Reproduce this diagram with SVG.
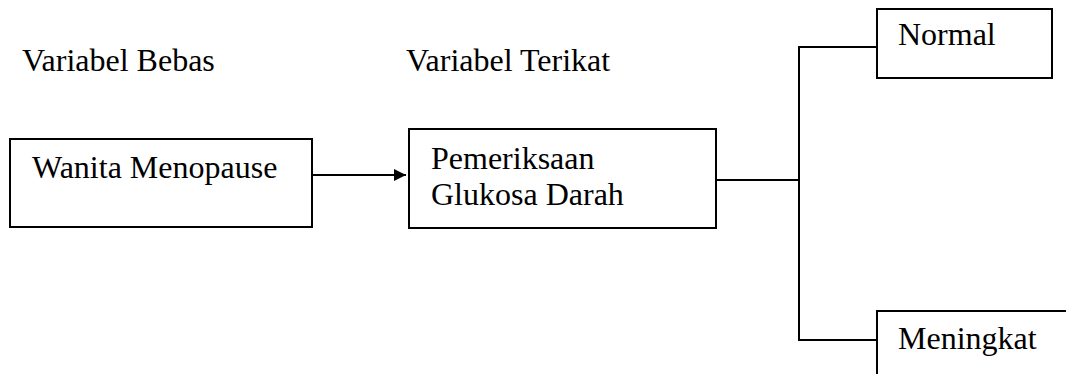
<svg xmlns="http://www.w3.org/2000/svg" width="1066" height="374" viewBox="0 0 1066 374">
<defs>
<style>
text{font-family:"Liberation Serif","Times New Roman",serif;font-size:32px;fill:#000}
.box{fill:#fff;stroke:#000;stroke-width:2}
.ln{fill:none;stroke:#000;stroke-width:2}
</style>
<marker id="ah" markerWidth="12" markerHeight="12" refX="12" refY="6" orient="auto" markerUnits="userSpaceOnUse">
<path d="M0,0 L12,6 L0,12 Z" fill="#000"/>
</marker>
</defs>
<rect width="1066" height="374" fill="#fff"/>
<text x="22" y="71">Variabel Bebas</text>
<text x="406" y="71">Variabel Terikat</text>
<g id="connectors">
<line class="ln" x1="312" y1="175" x2="406" y2="175" marker-end="url(#ah)"/>
<line class="ln" x1="716" y1="180" x2="799" y2="180"/>
<polyline class="ln" points="877,47 799,47 799,340 877,340"/>
</g>
<g id="wanita">
<rect class="box" x="10" y="139" width="302" height="88"/>
<text x="32" y="178">Wanita Menopause</text>
</g>
<g id="pemeriksaan">
<rect class="box" x="409" y="129" width="307" height="99"/>
<text x="431" y="169">Pemeriksaan</text>
<text x="431" y="205">Glukosa Darah</text>
</g>
<g id="normal">
<rect class="box" x="877" y="9" width="175" height="69"/>
<text x="898" y="45">Normal</text>
</g>
<g id="meningkat">
<rect class="box" x="877" y="311" width="200" height="80"/>
<text x="898" y="349">Meningkat</text>
</g>
</svg>
